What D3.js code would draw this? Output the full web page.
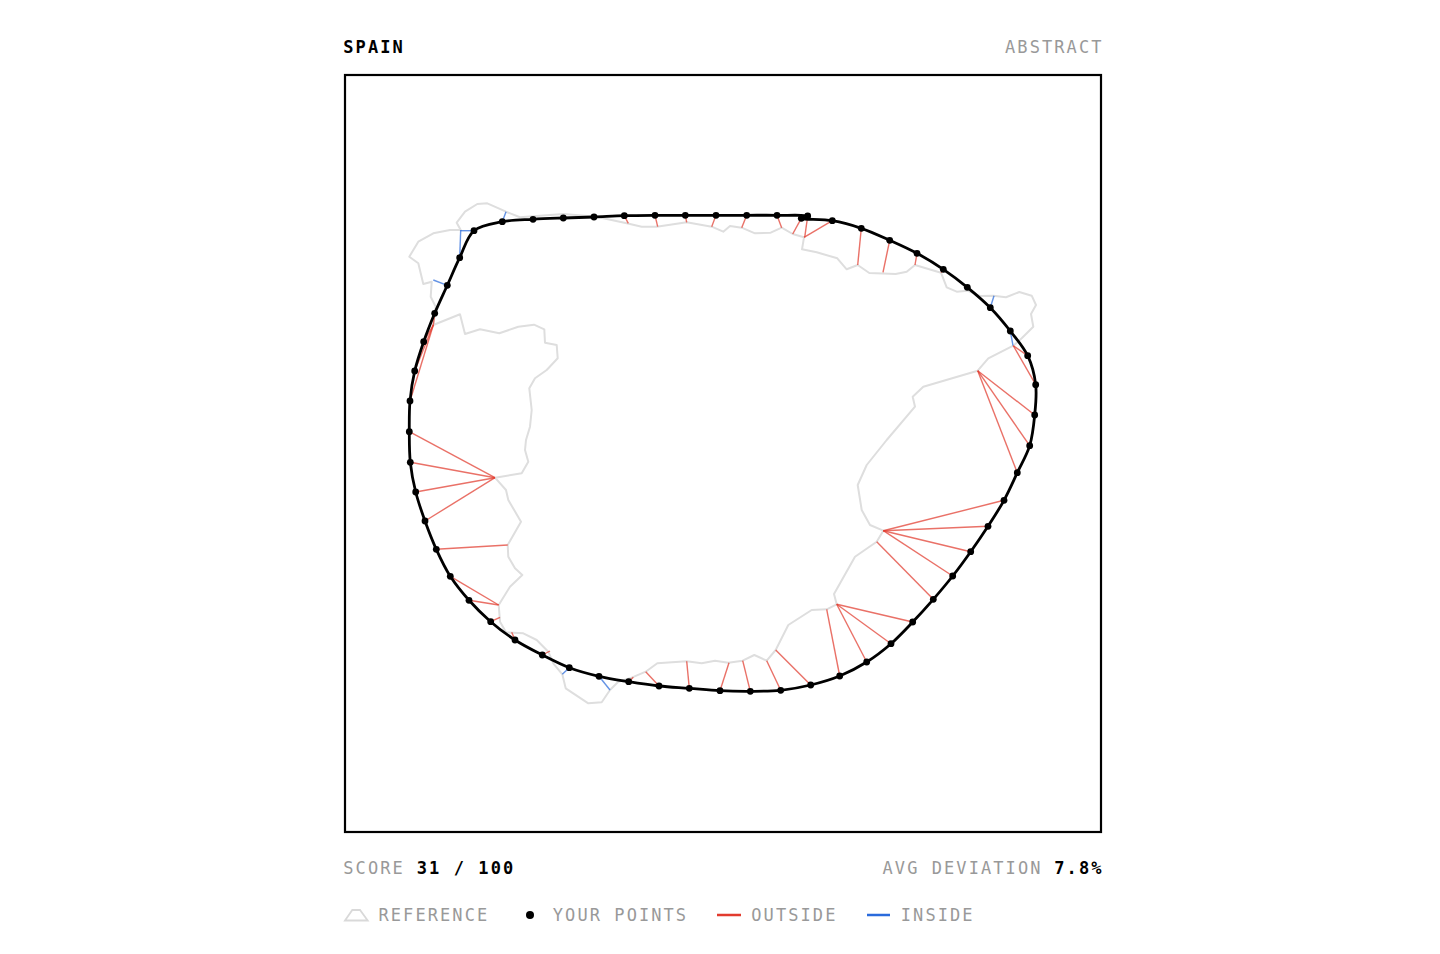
<!DOCTYPE html>
<html>
<head>
<meta charset="utf-8">
<script src="https://d3js.org/d3.v7.min.js"></script>
<style>
  html, body { margin: 0; background: #fff; }
  svg { display: block; }
  text { font-family: "DejaVu Sans Mono", monospace; font-size: 17px; letter-spacing: 2.07px; }
</style>
</head>
<body>
<div id="chart"></div>
<script>
let refPoints = [
  [161,136.7],[142.3,128.3],[132.3,129],[120,136.7],[111.7,147.7],[115.7,155],[105,155],[88.3,158.3],[73.3,166.7],[64.3,181.7],
  [73.3,188.3],[78.3,209],[86.7,206.7],[85.7,221.7],[90.7,231.7],[88.3,250],[115,239.3],[120,259],[135,254.3],[154.3,258.3],
  [173.3,251.7],[189,249.7],[199.3,254.3],[200,267.7],[211.7,270],[212.7,283.3],[201.7,295],[190,303.3],[184.3,313.3],[186.7,335],
  [185,351.7],[181,365],[180,375],[183.3,386.7],[176.7,398.3],[150,402.7],[161,415],[163.3,425],[176,446.7],[162.7,470],
  [163.3,481.7],[170,493.3],[177.3,500],[165,511.7],[153.7,530],[155,546.7],[161,557.3],[178.3,558.3],[191.7,565],[203.3,576.7],
  [208.3,588.3],[217.3,599.3],[220.7,613.3],[243.3,628.3],[256.7,627.3],[265,615],[273.3,606.7],[285,603.3],[300.7,596.7],[312.3,588.3],
  [341.7,586.3],[356.7,588.3],[370,585.7],[383.3,587.7],[397.7,585.7],[409.3,580],[421.7,585.7],[430.7,575],[443.3,550],[466.7,535],
  [481.7,534.3],[491.7,529.3],[489,519],[510,481.7],[531.7,466.7],[538.3,455.7],[525,450],[516.7,435],[512.7,410],[521.7,390],
  [541.7,365],[570,331.7],[567.7,321.7],[578.3,311.7],[632.7,295.7],[643.3,283.3],[668.3,270.7],[676.7,263.3],[688.3,251.7],[686,239],
  [691,230],[686.7,220.7],[674.3,217],[661,222.3],[648.3,220.7],[635,221],[622.3,215.7],[611.7,216.7],[601.7,212.3],[596,197.7],
  [570,190],[561.7,196.7],[550.7,199],[524.3,198],[512.7,190],[501.7,194.3],[492.3,183.3],[471.7,177.3],[457,174.3],[459,162.3],
  [447.7,159],[436.7,152.7],[425.7,157.7],[410,158.3],[396.7,152.7],[385,151],[378.3,156.7],[366.7,151.7],[341.7,147.3],[311.7,151.7],
  [296.7,151.7],[281.7,148.3],[258.3,143.3],[251.7,141.7],[218.3,139],[175,142.3]
]

let userPoints = [
  [456.3,143.3],[487.3,145.7],[516.3,153.3],[544.7,165.3],[572,178.3],[598.3,194.3],[622.3,212.3],[645.3,232.7],[665.3,256],[682.7,280.7],
  [690.7,309.7],[689.7,340],[684.7,370.7],[672.3,397.7],[659,425.3],[643,451.3],[625.7,476.7],[607.7,501],[588.3,524.3],[567.7,547],
  [546,568.7],[521.7,587],[494.7,601],[465.7,610],[435.7,615.3],[405.3,616.3],[375,615.7],[344.3,613.3],[314,611],[283.7,606.7],
  [254,601.3],[224.3,592.7],[197.3,580],[170,565],[145.7,546.7],[124,525.3],[105.3,501.3],[91.3,474.3],[80,446],[70.7,417],
  [65.3,387.3],[64.3,356.7],[65,326],[69.7,296],[78.7,266.7],[89.7,238.3],[102.3,210.3],[114.7,182.7],[129,155.7],[157.3,146.7],
  [188,144.3],[218.3,143],[249,142],[279.3,140.7],[310,140.3],[340.3,140.3],[371,140.3],[401.7,140.3],[432,140.3],[462.7,141]
]

// closest reference point for each of your points, null where the two touch
let nearest = [
  [447.7,159],[459,162.3],[512.7,190],[538,197.3],[570,190],[596,197.7],null,[649,220.7],[668,270.7],[668.3,270.7],
  [668.3,270.7],[632.7,295.7],[632.7,295.7],[632.7,295.7],[538.3,455.7],[538.3,455.7],[538.3,455.7],[538.3,455.7],[531.7,466.7],[491.7,529.3],
  [491.7,529.3],[491.7,529.3],[481.7,534.3],[430.7,575],[421.7,585.7],[397.7,585.7],[384,587.7],[341.7,586.3],[300.7,596.7],[288.3,602.3],
  [265,615],[217.3,599.3],[205,576],[166.7,557.3],[155,542.3],[153.7,530],[153.7,530],[162.7,470],[150,402.7],[150,402.7],
  [150,402.7],[150,402.7],[88.3,250],[88.3,250],[88.3,250],[88.3,250],[88.3,205],[115.7,155],[115.7,155.7],[161,136.7],
  null,null,[253,142.3],[283.3,148.3],[312.7,151.7],[341.7,147.3],[366.7,151.7],[396.7,152.7],[436.7,152.7],[459.7,162.3]
]

let sides = [
  "o","o","o","o","o","o","o","i","i","o",
  "o","o","o","o","o","o","o","o","o","o",
  "o","o","o","o","o","o","o","o","o","o",
  "i","i","o","o","o","o","o","o","o","o",
  "o","o","o","o","o","o","i","i","i","i",
  "o","o","i","o","o","o","o","o","o","o"
]

let title = "SPAIN"
let mode = "ABSTRACT"
let score = "31 / 100"
let deviation = "7.8%"

const red = "#e23b2e"
const blue = "#2a6bdc"
const grey = "#999"

let svg = d3.select("#chart").append("svg").attr("width", 1440).attr("height", 954)

// frame
svg.append("rect").attr("x", 345).attr("y", 75).attr("width", 756).attr("height", 757)
  .attr("fill", "none").attr("stroke", "#000").attr("stroke-width", 2.2)

let xScale = d3.scaleLinear().domain([0, 756]).range([345, 1101])
let yScale = d3.scaleLinear().domain([0, 756]).range([75, 831])

let refLine = d3.line().x(d => xScale(d[0])).y(d => yScale(d[1])).curve(d3.curveLinearClosed)
let userLine = d3.line().x(d => xScale(d[0])).y(d => yScale(d[1])).curve(d3.curveCatmullRomClosed.alpha(0.5))

svg.append("path").attr("d", refLine(refPoints))
  .attr("fill", "none").attr("stroke", "#dedede").attr("stroke-width", 2).attr("stroke-linejoin", "round")

svg.selectAll(".dev")
  .data(userPoints.map((d, i) => ({ from: d, to: nearest[i], side: sides[i] })).filter(d => d.to))
  .enter()
  .append("line")
  .attr("class", "dev")
  .attr("x1", d => xScale(d.from[0]))
  .attr("y1", d => yScale(d.from[1]))
  .attr("x2", d => xScale(d.to[0]))
  .attr("y2", d => yScale(d.to[1]))
  .attr("stroke", d => d.side == "o" ? red : blue)
  .attr("stroke-width", 1.4)
  .attr("opacity", 0.72)

svg.append("path").attr("d", userLine(userPoints))
  .attr("fill", "none").attr("stroke", "#000").attr("stroke-width", 2.8)

svg.selectAll(".pt")
  .data(userPoints)
  .enter()
  .append("circle")
  .attr("class", "pt")
  .attr("cx", d => xScale(d[0]))
  .attr("cy", d => yScale(d[1]))
  .attr("r", 3.4)
  .attr("fill", "#000")

// header and score row
function label(x, y, txt, color, weight, anchor) {
  return svg.append("text").attr("x", x).attr("y", y).text(txt)
    .attr("fill", color).attr("font-weight", weight || "normal").attr("text-anchor", anchor || "start")
}
label(343.3, 53, title, "#000", "bold")
label(1103.5, 53, mode, grey, "normal", "end")
label(343.3, 873.5, "SCORE", grey)
label(416.8, 873.5, score, "#000", "bold")
label(1042.5, 873.5, "AVG DEVIATION", grey, "normal", "end")
label(1103.5, 873.5, deviation, "#000", "bold", "end")

// legend
svg.append("path").attr("d", "M345,920.5L352.3,910L360,910L367.7,920.5Z")
  .attr("fill", "none").attr("stroke", "#d9d9d9").attr("stroke-width", 1.8)
label(378.5, 920.7, "REFERENCE", grey)
svg.append("circle").attr("cx", 530).attr("cy", 915).attr("r", 4).attr("fill", "#000")
label(552.8, 920.7, "YOUR POINTS", grey)
svg.append("line").attr("x1", 717).attr("x2", 741).attr("y1", 915).attr("y2", 915).attr("stroke", red).attr("stroke-width", 2.5)
label(751.3, 920.7, "OUTSIDE", grey)
svg.append("line").attr("x1", 867).attr("x2", 890).attr("y1", 915).attr("y2", 915).attr("stroke", blue).attr("stroke-width", 2.5)
label(900.8, 920.7, "INSIDE", grey)
</script>
</body>
</html>
